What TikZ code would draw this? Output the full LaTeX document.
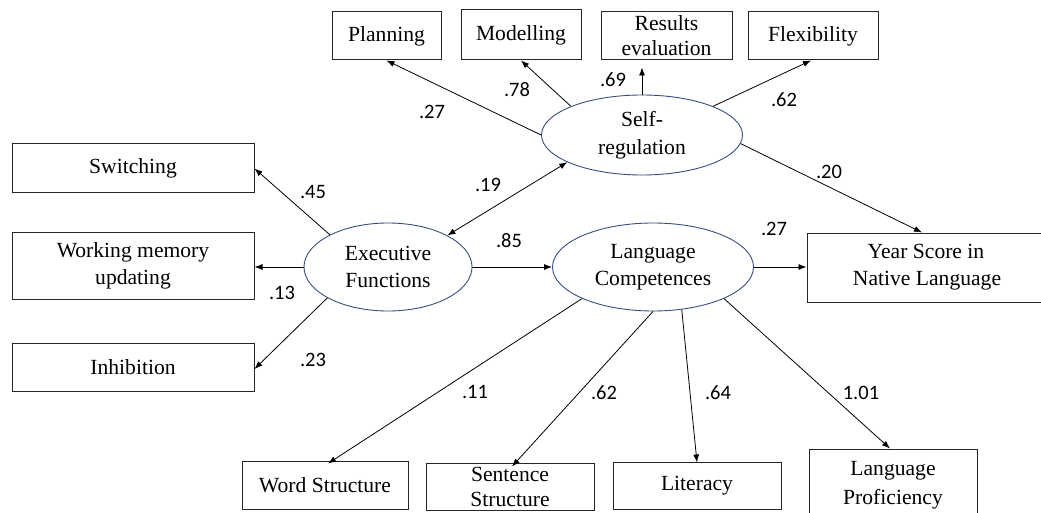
\documentclass[tikz,border=0pt]{standalone}
\usepackage{fontspec}
\setmainfont{Liberation Serif}
\newfontfamily\labfont{Carlito}
\usetikzlibrary{arrows.meta,shapes.geometric}
\definecolor{ellblue}{HTML}{3A4E7E}
\tikzset{
  box/.style={draw=black!85, line width=1pt, rectangle, inner sep=0pt, align=center,
    font=\fontsize{21.6}{27}\selectfont},
  lat/.style={draw=ellblue, line width=0.9pt, ellipse, inner sep=0pt, align=center,
    font=\fontsize{21.6}{28}\selectfont},
  arr/.style={-{Latex[length=8pt,width=6pt]}, line width=0.8pt, black},
  darr/.style={{Latex[length=8pt,width=6pt]}-{Latex[length=8pt,width=6pt]}, line width=0.8pt, black},
  lbl/.style={font=\labfont\fontsize{20.5}{24}\selectfont, inner sep=0pt}
}
\begin{document}
\begin{tikzpicture}[x=1pt,y=-1pt]
\clip (0,0) rectangle (1041,513);
\fill[white] (0,0) rectangle (1041,513);
% top boxes
\node[box, minimum width=109, minimum height=48] (plan) at (386.5,36) {Planning};
\node[box, minimum width=120, minimum height=50] (model) at (521,35) {Modelling};
\node[box, minimum width=131, minimum height=48, font=\fontsize{21.6}{25}\selectfont] (res) at (666.5,36) {Results\\evaluation};
\node[box, minimum width=130, minimum height=48] (flex) at (813,36) {Flexibility};
% left boxes
\node[box, minimum width=242, minimum height=49] (switch) at (133,168.5) {Switching};
\node[box, minimum width=242, minimum height=67] (wm) at (133,265.5) {Working memory\\updating};
\node[box, minimum width=242, minimum height=48] (inhib) at (133,367) {Inhibition};
% right box
\node[box, minimum width=240, minimum height=69] (year) at (927,267.5) {\hspace*{-2pt}Year Score in\\Native Language};
% bottom boxes
\node[box, minimum width=166, minimum height=48] (word) at (325,485) {Word Structure};
\node[box, minimum width=168, minimum height=47, font=\fontsize{21.6}{25}\selectfont] (sent) at (510,486.5) {Sentence\\Structure};
\node[box, minimum width=168, minimum height=47] (lit) at (697,485.5) {Literacy};
\node[box, minimum width=168, minimum height=72, font=\fontsize{21.6}{29}\selectfont] (prof) at (893,485) {Language\\Proficiency};
% latent ellipses
\node[lat, minimum width=201, minimum height=80] (self) at (642,135) {Self-\\regulation};
\node[lat, minimum width=168, minimum height=88, font=\fontsize{21.6}{27}\selectfont] (ef) at (388,267) {Executive\\Functions};
\node[lat, minimum width=201, minimum height=88, font=\fontsize{21.6}{27}\selectfont] (lc) at (653,267) {Language\\Competences};
% self-regulation paths
\draw[arr] (self.west) -- (plan.south);
\draw[arr] (self.158.5) -- (model.south);
\draw[arr, shorten >=7pt] (self.north) -- (self.north |- res.south);
\draw[arr] (self.22) -- ([xshift=-2pt]flex.south);
\draw[arr] (self.-5) -- ([xshift=-5pt]year.north);
% correlation
\draw[darr] (ef.28) -- (self.200.3);
% executive functions paths
\draw[arr] (ef.151.5) -- (switch.east);
\draw[arr] (ef.west) -- (ef.west -| wm.east);
\draw[arr] (ef.207.3) -- ([yshift=-2pt]inhib.east);
\draw[arr] (ef.east) -- (lc.west);
% language competences paths
\draw[arr] (lc.east) -- (lc.east -| year.west);
\draw[arr] (lc.204.3) -- ([xshift=3pt,yshift=-3pt]word.north);
\draw[arr] (lc.south) -- ([xshift=2pt,yshift=-4pt]sent.north);
\draw[arr] (lc.-56.6) -- ([yshift=-1pt]lit.north);
\draw[arr] (lc.-24) -- ([xshift=-3pt]prof.north);
% coefficient labels
\node[lbl] (l27a) at (432,112) {.27};
\node[lbl] (l78) at (517,90) {.78};
\node[lbl] (l69) at (613,80) {.69};
\node[lbl] (l62a) at (784,100) {.62};
\node[lbl] (l20) at (829,172) {.20};
\node[lbl] (l19) at (488,185) {.19};
\node[lbl] (l45) at (313,192) {.45};
\node[lbl] (l13) at (282,293) {.13};
\node[lbl] (l23) at (313,360) {.23};
\node[lbl] (l85) at (509,241) {.85};
\node[lbl] (l27b) at (774,229) {.27};
\node[lbl] (l11) at (475,392) {.11};
\node[lbl] (l62b) at (604,393) {.62};
\node[lbl] (l64) at (718,393) {.64};
\node[lbl] (l101) at (861,393) {1.01};
\end{tikzpicture}
\end{document}
